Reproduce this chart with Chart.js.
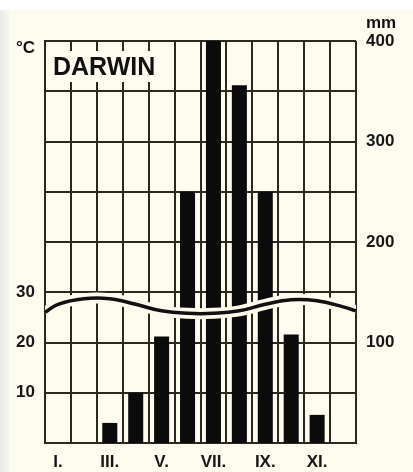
<!DOCTYPE html>
<html>
<head>
<meta charset="utf-8">
<script src="https://cdn.jsdelivr.net/npm/chart.js@4/dist/chart.umd.min.js"></script>
<style>
	html, body { margin: 0; padding: 0; background: #ffffff; }
	#wrap { width: 413px; height: 472px; position: relative; }
</style>
</head>
<body>
<div id="wrap"><canvas id="climate"></canvas></div>
<script>
const months = ["I.", "II.", "III.", "IV.", "V.", "VI.", "VII.", "VIII.", "IX.", "X.", "XI.", "XII."];
const monthTicks = ["I.", "", "III.", "", "V.", "", "VII.", "", "IX.", "", "XI.", ""];
const rainfall = [0, 0, 20, 50, 106, 250, 400, 356, 250, 108, 28, 0];
// temperature: chart edges plus month centres
const tempPos = [0, 0.5, 1.5, 2.5, 3.5, 4.5, 5.5, 6.5, 7.5, 8.5, 9.5, 10.5, 11.5, 12];
const tempValues = [26.0, 27.6, 28.7, 28.7, 27.6, 26.3, 25.8, 25.8, 26.3, 27.6, 28.5, 28.3, 27.1, 26.3];
const tempTicks = [10, 20, 30];
const rainTicks = [100, 200, 300, 400];
const station = "DARWIN";

const cream = "#fdfcee";
const ink = "#2c281e";
const font = { family: "'Liberation Sans', Arial, sans-serif", size: 17, weight: "bold" };

const tempPoints = tempPos.map((x, i) => ({ x: x, y: tempValues[i] }));

/*paper background with a light edge on the left and top*/
const paper = {
	id: "paper",
	beforeDraw(chart) {
		const ctx = chart.ctx;
		ctx.save();
		ctx.fillStyle = "#ffffff";
		ctx.fillRect(0, 0, chart.width, chart.height);
		const grad = ctx.createLinearGradient(0, 0, 9, 0);
		grad.addColorStop(0, "#e9e9e7");
		grad.addColorStop(1, "#f7f7f2");
		ctx.fillStyle = grad;
		ctx.fillRect(0, 10, 9, chart.height);
		ctx.fillStyle = cream;
		ctx.fillRect(9, 10, chart.width - 9, chart.height - 10);
		ctx.restore();
	},
	afterDraw(chart) {
		const ctx = chart.ctx;
		const area = chart.chartArea;
		ctx.save();
		/*name box hides the grid under it*/
		ctx.fillStyle = cream;
		ctx.fillRect(area.left + 2, area.top + 10, 123, 31);
		ctx.fillStyle = "#111111";
		ctx.font = "bold 25px 'Liberation Sans', Arial, sans-serif";
		ctx.textBaseline = "alphabetic";
		ctx.textAlign = "left";
		ctx.fillText(station, area.left + 8, area.top + 34);
		ctx.font = "bold 17px 'Liberation Sans', Arial, sans-serif";
		ctx.fillText("°C", 16, 53);
		ctx.fillText("mm", 366, 28);
		ctx.restore();
	}
};

new Chart(document.getElementById("climate"), {
	data: {
		labels: months,
		datasets: [
			{
				type: "line",
				data: tempPoints,
				xAxisID: "xt",
				yAxisID: "temp",
				borderColor: "#111111",
				borderWidth: 3.5,
				pointRadius: 0,
				tension: 0.4,
				fill: false,
				order: 1,
			},
			{
				type: "line",
				data: tempPoints,
				xAxisID: "xt",
				yAxisID: "temp",
				borderColor: cream,
				borderWidth: 11,
				pointRadius: 0,
				tension: 0.4,
				fill: false,
				order: 2,
			},
			{
				type: "bar",
				data: rainfall,
				xAxisID: "x",
				yAxisID: "rain",
				backgroundColor: "#0b0b0b",
				grouped: false,
				barPercentage: 0.58,
				categoryPercentage: 1,
				order: 3,
			},
		],
	},
	options: {
		responsive: true,
		maintainAspectRatio: false,
		animation: false,
		layout: { padding: { top: 41, left: 0, right: 0, bottom: 0 } },
		plugins: { legend: { display: false }, tooltip: { enabled: false } },
		scales: {
			x: {
				type: "category",
				z: 1,
				offset: true,
				grid: { offset: true, color: ink, lineWidth: 2, drawTicks: false },
				border: { color: ink, width: 2 },
				ticks: {
					color: "#161616",
					font: font,
					padding: 9,
					maxRotation: 0,
					autoSkip: false,
					callback: (v, i) => monthTicks[i],
				},
				afterFit(scale) { scale.height = 29; },
			},
			xt: {
				type: "linear",
				display: false,
				min: 0,
				max: 12,
			},
			temp: {
				type: "linear",
				position: "left",
				z: 1,
				min: 0,
				max: 80,
				grid: { color: ink, lineWidth: 2, drawTicks: false },
				border: { color: ink, width: 2 },
				ticks: {
					stepSize: 10,
					color: "#161616",
					font: font,
					padding: 10,
					callback: (v) => (tempTicks.includes(v) ? String(v) : ""),
				},
				afterFit(scale) { scale.width = 45; },
			},
			rain: {
				type: "linear",
				position: "right",
				z: 1,
				min: 0,
				max: 400,
				grid: { display: false, drawTicks: false },
				border: { display: false },
				ticks: {
					stepSize: 100,
					color: "#161616",
					font: font,
					padding: 10,
					callback: (v) => (rainTicks.includes(v) ? String(v) : ""),
				},
				afterFit(scale) { scale.width = 57; },
			},
		},
	},
	plugins: [paper],
});
</script>
</body>
</html>
